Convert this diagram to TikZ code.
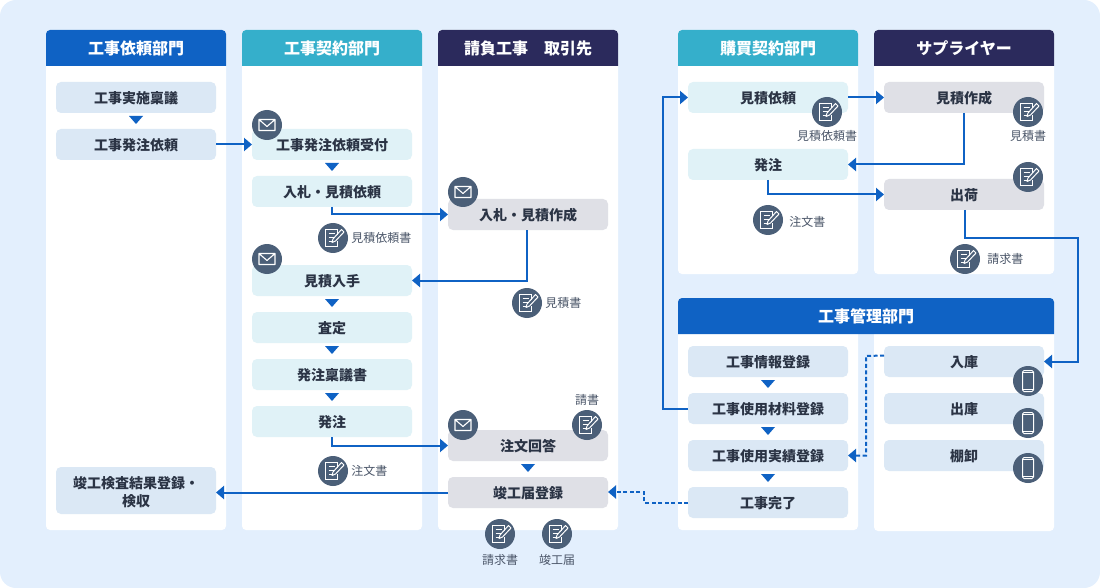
\documentclass[tikz,border=0pt]{standalone}
\usepackage{fontspec}
\setmainfont{Noto Sans CJK JP}
\usetikzlibrary{arrows.meta,positioning,calc}
\definecolor{pageBg}{HTML}{E3EFFD}
\definecolor{headBlue}{HTML}{0F62C4}
\definecolor{headTeal}{HTML}{35AFCB}
\definecolor{headNavy}{HTML}{2B2A5C}
\definecolor{boxBlue}{HTML}{DBE8F5}
\definecolor{boxTeal}{HTML}{E0F2F7}
\definecolor{boxGray}{HTML}{DFE0E6}
\definecolor{iconFill}{HTML}{4B5F78}
\definecolor{inkDark}{HTML}{2B3445}
\definecolor{inkGray}{HTML}{4A5568}
\tikzstyle{panel} = [fill=white, rounded corners=4pt]
\tikzstyle{headText} = [text=white, font=\fontsize{16}{18}\selectfont\bfseries]
\tikzstyle{recNode} = [rectangle, minimum width=160pt, minimum height=31pt, inner sep=0pt, outer sep=0pt, text height=12.6pt, text depth=0pt, align=center, rounded corners=5pt, text=inkDark, font=\fontsize{14}{18}\selectfont\bfseries]
\tikzstyle{recNodeB} = [recNode, fill=boxBlue]
\tikzstyle{recNodeT} = [recNode, fill=boxTeal]
\tikzstyle{recNodeG} = [recNode, fill=boxGray]
\tikzstyle{arrowB} = [line width=2pt, -{Triangle[length=8pt,width=13pt]}, draw=headBlue]
\tikzstyle{arrowD} = [arrowB, dash pattern=on 4pt off 2.5pt]
\tikzstyle{stepMark} = [fill=headBlue, inner sep=0pt, minimum size=0pt]
\tikzstyle{noteText} = [text=inkGray, font=\fontsize{12}{14}\selectfont, inner sep=0pt]
\tikzstyle{iconBase} = [circle, fill=iconFill, minimum size=30pt, inner sep=0pt]
\tikzstyle{iconMail} = [iconBase, path picture={
    \draw[white, line width=1.1pt, line join=round]
      ([xshift=-8pt,yshift=-5.5pt]path picture bounding box.center) rectangle ([xshift=8pt,yshift=5.5pt]path picture bounding box.center)
      ([xshift=-8pt,yshift=5.5pt]path picture bounding box.center) -- ([yshift=-1.5pt]path picture bounding box.center) -- ([xshift=8pt,yshift=5.5pt]path picture bounding box.center);
  }]
\tikzstyle{iconDoc} = [iconBase, path picture={
    \begin{scope}[shift={(path picture bounding box.center)}, x=1pt, y=-1pt]
    \draw[white, line width=1.1pt] (4.5,-3.5) -- (4.5,-8.5) -- (-7.5,-8.5) -- (-7.5,8.5) -- (4.5,8.5) -- (4.5,3);
    \draw[white, line width=1.1pt] (-4.5,-4.5) -- (1.5,-4.5) (-4.5,-0.5) -- (0.5,-0.5) (-4.5,3.5) -- (-1.5,3.5);
    \draw[white, line width=1pt, line join=round] (8.5,-8.5) -- (11,-6) -- (2.5,3) -- (-1,4.5) -- (0,1) -- cycle;
    \end{scope}
  }]
\tikzstyle{iconPhone} = [iconBase, path picture={
    \begin{scope}[shift={(path picture bounding box.center)}, x=1pt, y=-1pt]
    \draw[white, line width=1pt, rounded corners=1.5pt] (-5.5,-10.5) rectangle (5.5,10.5);
    \draw[white, line width=0.8pt] (-5.5,-8.5) -- (5.5,-8.5) (-5.5,8) -- (5.5,8);
    \end{scope}
  }]
% panel with a head band: colour, x, y, width, body bottom
\newcommand{\panelHead}[5]{
  \fill[panel] (#2,#3) rectangle (#2+#4,#5);
  \fill[#1] (#2,#3+36) [rounded corners=4pt] -- (#2,#3) -- (#2+#4,#3) [sharp corners] -- (#2+#4,#3+36) -- cycle;
}
\begin{document}
\begin{tikzpicture}[x=1pt, y=-1pt]
    \useasboundingbox (0,0) rectangle (1100,588);
    \fill[pageBg, rounded corners=16pt] (0,0) rectangle (1100,588);

    % panels
    \panelHead{headBlue}{46}{30}{180}{530}
    \panelHead{headTeal}{242}{30}{180}{530}
    \panelHead{headNavy}{438}{30}{180}{530}
    \panelHead{headTeal}{678}{30}{180}{274}
    \panelHead{headNavy}{874}{30}{180}{274}
    \fill[panel] (678,320) rectangle (858,530);
    \fill[panel] (874,320) rectangle (1054,531);
    \fill[headBlue] (678,334) [rounded corners=4pt] -- (678,298) -- (1054,298) [sharp corners] -- (1054,334) -- cycle;

    \node (headA) [headText] at (136,48.5) {工事依頼部門};
    \node (headB) [headText] at (332,48.5) {工事契約部門};
    \node (headC) [headText] at (528,48.5) {請負工事　取引先};
    \node (headD) [headText] at (768,48.5) {購買契約部門};
    \node (headE) [headText] at (964,48.5) {サプライヤー};
    \node (headF) [headText] at (866,316.5) {工事管理部門};

    % first column
    \node (plan) [recNodeB] at (136,97.5) {工事実施稟議};
    \node (req) [recNodeB, below=16pt of plan] {工事発注依頼};
    \node (accept) [recNodeB, text height=, text depth=, minimum height=47pt] at (136,490.5) {\rule{0pt}{15.5pt}竣工検査結果登録・\\検収};

    % second column
    \node (recv) [recNodeT] at (332,144.5) {工事発注依頼受付};
    \node (bid) [recNodeT, below=16pt of recv] {入札・見積依頼};
    \node (quote) [recNodeT] at (332,280.5) {見積入手};
    \node (assess) [recNodeT, below=16pt of quote] {査定};
    \node (ringi) [recNodeT, below=16pt of assess] {発注稟議書};
    \node (order) [recNodeT, below=16pt of ringi] {発注};

    % third column
    \node (bidmake) [recNodeG] at (528,214.5) {入札・見積作成};
    \node (answer) [recNodeG] at (528,445.5) {注文回答};
    \node (finish) [recNodeG, below=16pt of answer] {竣工届登録};

    % purchasing and supplier
    \node (buyreq) [recNodeT] at (768,97.5) {見積依頼};
    \node (buyorder) [recNodeT] at (768,164.5) {発注};
    \node (supquote) [recNodeG] at (964,97.5) {見積作成};
    \node (ship) [recNodeG] at (964,194.5) {出荷};

    % management
    \node (info) [recNodeB] at (768,361.5) {工事情報登録};
    \node (material) [recNodeB, below=16pt of info] {工事使用材料登録};
    \node (result) [recNodeB, below=16pt of material] {工事使用実績登録};
    \node (done) [recNodeB, below=16pt of result] {工事完了};
    \node (stockin) [recNodeB] at (964,361.5) {入庫};
    \node (stockout) [recNodeB, below=16pt of stockin] {出庫};
    \node (stocktake) [recNodeB, below=16pt of stockout] {棚卸};

    % small down marks between steps
    \foreach \a in {plan,recv,quote,assess,ringi,answer,info,material,result}
      \fill[stepMark] ($(\a.south)+(-7,3)$) -- ($(\a.south)+(7,3)$) -- ($(\a.south)+(0,11)$) -- cycle;

    % connectors
    \coordinate (shipTurn) at (1078,238);
    \coordinate (loopTurn) at (663,97.5);
    \coordinate (dashTurn) at (644,492);
    \coordinate (stockTurn) at (866,356);
    \draw [arrowB] (req) -- (recv);
    \draw [arrowB] (bid.south) |- (bidmake.west);
    \draw [arrowB] ([xshift=-1pt]bidmake.south) |- (quote.east);
    \draw [arrowB] (order.south) |- (answer.west);
    \draw [arrowB] (finish) -- (finish -| accept.east);
    \draw [arrowB] (material.west) -| (loopTurn) -- (buyreq.west);
    \draw [arrowB] (buyreq) -- (supquote);
    \draw [arrowB] (supquote.south) |- (buyorder.east);
    \draw [arrowB] (buyorder.south) |- (ship.west);
    \draw [arrowB] ([xshift=1pt]ship.south) |- (shipTurn) |- (stockin.east);
    \draw [arrowD] ([yshift=6pt]stockin.west) -- (stockTurn) |- (result.east);
    \draw [arrowD] (done.west) -| (dashTurn) -- (finish.east |- dashTurn);

    % mail icons
    \node (mailA) [iconMail] at (267,125) {};
    \node (mailB) [iconMail] at (267,259) {};
    \node (mailC) [iconMail] at (463,192) {};
    \node (mailD) [iconMail] at (463,425) {};

    % document icons
    \node (docA) [iconDoc] at (333,238) {};
    \node (docB) [iconDoc] at (527,303) {};
    \node (docC) [iconDoc] at (333,471) {};
    \node (docD) [iconDoc] at (587,425) {};
    \node (docE) [iconDoc] at (500,534) {};
    \node (docF) [iconDoc] at (557,534) {};
    \node (docG) [iconDoc] at (827,112) {};
    \node (docH) [iconDoc] at (1028,112) {};
    \node (docI) [iconDoc] at (1028,177) {};
    \node (docJ) [iconDoc] at (768,220) {};
    \node (docK) [iconDoc] at (965,259) {};

    % phone icons
    \foreach \n/\y in {phoneA/381,phoneB/423,phoneC/468}
      \node (\n) [iconPhone] at (1028,\y) {};

    % notes
    \node (noteA) [noteText, right=3pt of docA] {見積依頼書};
    \node (noteB) [noteText, right=3pt of docB] {見積書};
    \node (noteC) [noteText, right=3pt of docC] {注文書};
    \node (noteD) [noteText, above=4pt of docD] {請書};
    \node (noteE) [noteText, below=5pt of docE] {請求書};
    \node (noteF) [noteText, below=5pt of docF] {竣工届};
    \node (noteG) [noteText, below=3pt of docG] {見積依頼書};
    \node (noteH) [noteText, below=3pt of docH] {見積書};
    \node (noteJ) [noteText, right=6pt of docJ, yshift=-1.5pt] {注文書};
    \node (noteK) [noteText, right=7pt of docK] {請求書};
\end{tikzpicture}
\end{document}
